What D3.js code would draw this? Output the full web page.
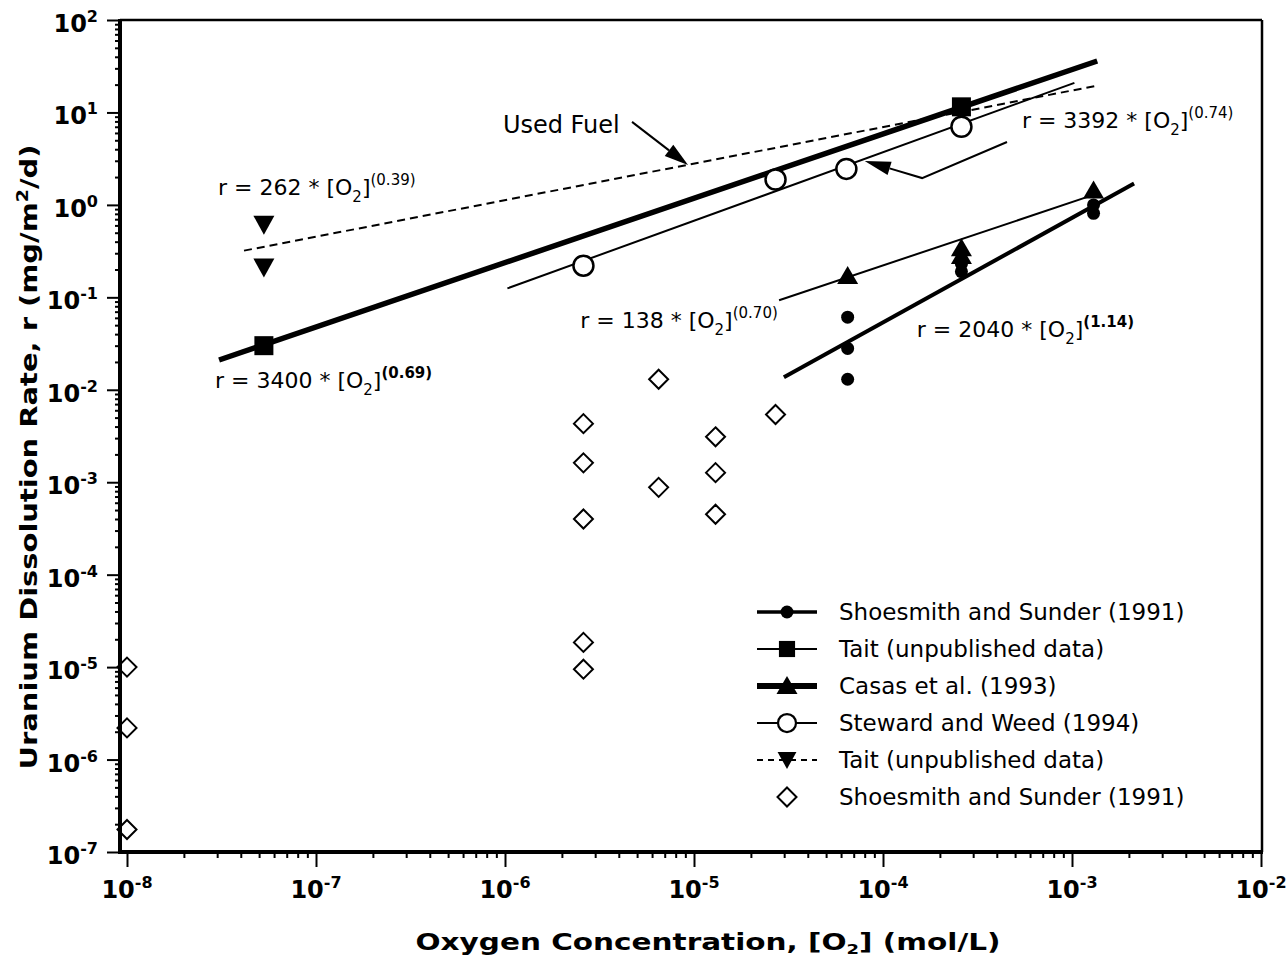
<!DOCTYPE html>
<html><head><meta charset="utf-8">
<script src="https://cdn.jsdelivr.net/npm/d3@7"></script>
<style>
html,body{margin:0;padding:0;background:#fff;}
svg{display:block;font-family:"DejaVu Sans",sans-serif;}
</style></head><body>
<svg id="chart" width="1286" height="958"></svg>
<script>
// ---------------- data ----------------
const xTickExponents = [-8, -7, -6, -5, -4, -3, -2];
const yTickExponents = [-7, -6, -5, -4, -3, -2, -1, 0, 1, 2];

// Shoesmith and Sunder (1991) - filled circles
const shoesmithClosedX = [6.5e-5, 6.5e-5, 6.5e-5, 2.6e-4, 2.6e-4, 1.3e-3, 1.3e-3];
const shoesmithClosedY = [0.061, 0.028, 0.013, 0.23, 0.19, 1.0, 0.81];
// Tait (unpublished data) - squares
const taitSquareX = [5.3e-8, 2.6e-4];
const taitSquareY = [0.030, 11.5];
// Casas et al. (1993) - up triangles
const casasX = [6.5e-5, 2.6e-4, 2.6e-4, 1.3e-3];
const casasY = [0.17, 0.34, 0.28, 1.43];
// Steward and Weed (1994) - open circles
const stewardX = [2.6e-6, 2.7e-5, 6.4e-5, 2.6e-4];
const stewardY = [0.22, 1.88, 2.45, 7.0];
// Tait (unpublished data) - down triangles
const taitTriX = [5.3e-8, 5.3e-8];
const taitTriY = [0.61, 0.21];
// Shoesmith and Sunder (1991) - open diamonds
const diamondX = [1e-8, 1e-8, 1e-8, 2.6e-6, 2.6e-6, 2.6e-6, 2.6e-6, 2.6e-6, 6.5e-6, 6.5e-6, 1.3e-5, 1.3e-5, 1.3e-5, 2.7e-5];
const diamondY = [1.0e-5, 2.2e-6, 1.75e-7, 4.3e-3, 1.62e-3, 4.0e-4, 1.85e-5, 9.5e-6, 0.013, 8.8e-4, 3.1e-3, 1.27e-3, 4.5e-4, 5.4e-3];

// fitted lines (end points)
const fit3400X = [3.07e-8, 1.36e-3], fit3400Y = [0.021, 36];
const fit3392X = [1.03e-6, 1.03e-3], fit3392Y = [0.125, 20.9];
const fit262X  = [4.16e-8, 1.34e-3], fit262Y  = [0.32, 19.4];
const fit138X  = [2.82e-5, 1.31e-3], fit138Y  = [0.093, 1.29];
const fit2040X = [2.99e-5, 2.13e-3], fit2040Y = [0.0137, 1.70];

const legendLabels = ["Shoesmith and Sunder (1991)", "Tait (unpublished data)", "Casas et al. (1993)",
  "Steward and Weed (1994)", "Tait (unpublished data)", "Shoesmith and Sunder (1991)"];

// equation labels
const eqCoef = ["262", "3400", "138", "3392", "2040"];
const eqExp  = ["0.39", "0.69", "0.70", "0.74", "1.14"];
const eqX    = [3.03e-8, 2.92e-8, 2.5e-6, 5.43e-4, 1.51e-4];
const eqY    = [1.28, 0.01045, 0.0466, 6.8, 0.0372];
const eqBoldExp = [false, true, false, false, true];

// annotation anchor points (data units)
const usedFuelTextAt = [9.75e-7, 6.0];
const usedFuelArrowX = [4.7e-6, 9.3e-6], usedFuelArrowY = [7.9, 2.7];
const arrow3392X = [4.53e-4, 1.61e-4, 8.0e-5], arrow3392Y = [4.79, 1.95, 2.99];

// ---------------- drawing ----------------
const svg = d3.select("#chart");
const frame = {left: 120, right: 1262, top: 20, bottom: 852};
const x = d3.scaleLog().domain([1e-8, 1e-2]).range([127, 1261]);
const y = d3.scaleLog().domain([1e-7, 1e2]).range([852, 20]);

const zip = (a, b) => a.map((v, i) => [v, b[i]]);
const line = d3.line().x(d => x(d[0])).y(d => y(d[1]));

const xMinor = [], yMinor = [];
for (let e = -8; e < -2; e++) for (let m = 2; m <= 9; m++) xMinor.push(m * Math.pow(10, e));
for (let e = -7; e < 2; e++) for (let m = 2; m <= 9; m++) yMinor.push(m * Math.pow(10, e));

const gx = svg.append("g").attr("transform", `translate(0,${frame.bottom})`);
gx.call(d3.axisBottom(x).tickValues(xTickExponents.map(e => Math.pow(10, e))).tickSize(15).tickFormat(""));
const gxm = svg.append("g").attr("transform", `translate(0,${frame.bottom})`);
gxm.call(d3.axisBottom(x).tickValues(xMinor).tickSize(6).tickFormat(""));
const gy = svg.append("g").attr("transform", `translate(${frame.left},0)`);
gy.call(d3.axisLeft(y).tickValues(yTickExponents.map(e => Math.pow(10, e))).tickSize(13).tickFormat(""));
const gym = svg.append("g").attr("transform", `translate(${frame.left},0)`);
gym.call(d3.axisLeft(y).tickValues(yMinor).tickSize(5).tickFormat(""));
[gx, gxm, gy, gym].forEach(g => {
  g.select(".domain").remove();
  g.selectAll(".tick line").attr("stroke", "#000").attr("stroke-width", 2);
});

// tick labels
xTickExponents.forEach(e => {
  const t = svg.append("text").attr("x", x(Math.pow(10, e))).attr("y", 898)
    .attr("text-anchor", "middle").attr("font-weight", "bold").attr("font-size", 24).attr("fill", "#000");
  t.append("tspan").text("10");
  t.append("tspan").attr("dy", -10).attr("font-size", 16).text(String(e));
});
yTickExponents.forEach(e => {
  const t = svg.append("text").attr("x", 98).attr("y", y(Math.pow(10, e)) + 12)
    .attr("text-anchor", "end").attr("font-weight", "bold").attr("font-size", 24).attr("fill", "#000");
  t.append("tspan").text("10");
  t.append("tspan").attr("dy", -10).attr("font-size", 16).text(String(e));
});

// axis titles
const xt = svg.append("text").attr("x", 708).attr("y", 950).attr("text-anchor", "middle")
  .attr("font-weight", "bold").attr("font-size", 23).attr("textLength", 585).attr("lengthAdjust", "spacingAndGlyphs");
xt.append("tspan").text("Oxygen Concentration, [O");
xt.append("tspan").attr("dy", 4).attr("font-size", 14).text("2");
xt.append("tspan").attr("dy", -4).text("] (mol/L)");

const yt = svg.append("text").attr("transform", "translate(37,457) rotate(-90)").attr("text-anchor", "middle")
  .attr("font-weight", "bold").attr("font-size", 23).attr("textLength", 625).attr("lengthAdjust", "spacingAndGlyphs");
yt.append("tspan").text("Uranium Dissolution Rate, r (mg/m");
yt.append("tspan").attr("dy", -9).attr("font-size", 15).text("2");
yt.append("tspan").attr("dy", 9).text("/d)");

// fit lines
const plotG = svg.append("g");
plotG.append("path").datum(zip(fit262X, fit262Y)).attr("d", line).attr("fill", "none")
  .attr("stroke", "#000").attr("stroke-width", 2).attr("stroke-dasharray", "8,5");
plotG.append("path").datum(zip(fit3400X, fit3400Y)).attr("d", line).attr("fill", "none")
  .attr("stroke", "#000").attr("stroke-width", 5.5);
plotG.append("path").datum(zip(fit3392X, fit3392Y)).attr("d", line).attr("fill", "none")
  .attr("stroke", "#000").attr("stroke-width", 2);
plotG.append("path").datum(zip(fit138X, fit138Y)).attr("d", line).attr("fill", "none")
  .attr("stroke", "#000").attr("stroke-width", 2);
plotG.append("path").datum(zip(fit2040X, fit2040Y)).attr("d", line).attr("fill", "none")
  .attr("stroke", "#000").attr("stroke-width", 4);

const shapes = {
  filledCircle: g => g.append("circle").attr("r", 6.5).attr("fill", "#000"),
  square: g => g.append("rect").attr("x", -9.5).attr("y", -9.5).attr("width", 19).attr("height", 19).attr("fill", "#000"),
  triUp: g => g.append("path").attr("d", "M0,-10L10.5,8L-10.5,8Z").attr("fill", "#000"),
  openCircle: g => g.append("circle").attr("r", 10).attr("fill", "#fff").attr("stroke", "#000").attr("stroke-width", 2.5),
  triDown: g => g.append("path").attr("d", "M-10.5,-9L10.5,-9L0,10Z").attr("fill", "#000"),
  diamond: g => g.append("path").attr("d", "M0,-9.5L9.5,0L0,9.5L-9.5,0Z").attr("fill", "#fff").attr("stroke", "#000").attr("stroke-width", 2)
};
function drawPoints(xs, ys, shape) {
  zip(xs, ys).forEach(p => {
    const g = plotG.append("g").attr("transform", `translate(${x(p[0])},${y(p[1])})`);
    shapes[shape](g);
  });
}
drawPoints(diamondX, diamondY, "diamond");
drawPoints(stewardX, stewardY, "openCircle");
drawPoints(taitTriX, taitTriY, "triDown");
drawPoints(shoesmithClosedX, shoesmithClosedY, "filledCircle");
drawPoints(casasX, casasY, "triUp");
drawPoints(taitSquareX, taitSquareY, "square");

// equation labels
eqCoef.forEach((c, i) => {
  const t = svg.append("text").attr("x", x(eqX[i])).attr("y", y(eqY[i])).attr("font-size", 22).attr("fill", "#000");
  t.append("tspan").text(`r = ${c} * [O`);
  t.append("tspan").attr("dy", 7).attr("font-size", 15).text("2");
  t.append("tspan").attr("dy", -7).text("]");
  t.append("tspan").attr("dy", -10).attr("font-size", 15).attr("font-weight", eqBoldExp[i] ? "bold" : "normal").text(`(${eqExp[i]})`);
});

svg.append("text").attr("x", x(usedFuelTextAt[0])).attr("y", y(usedFuelTextAt[1]))
  .attr("font-size", 24).text("Used Fuel");
function arrow(xs, ys, headLen, headHalf) {
  const pts = zip(xs, ys).map(p => [x(p[0]), y(p[1])]);
  const n = pts.length;
  const [ax, ay] = pts[n - 2], [bx, by] = pts[n - 1];
  const dx = bx - ax, dy = by - ay, L = Math.hypot(dx, dy);
  const ux = dx / L, uy = dy / L;
  const baseX = bx - ux * headLen, baseY = by - uy * headLen;
  const shaft = pts.slice(0, n - 1).concat([[baseX, baseY]]);
  svg.append("path").attr("d", d3.line()(shaft)).attr("fill", "none").attr("stroke", "#000").attr("stroke-width", 2);
  svg.append("path").attr("d", `M${bx},${by}L${baseX - uy * headHalf},${baseY + ux * headHalf}L${baseX + uy * headHalf},${baseY - ux * headHalf}Z`).attr("fill", "#000");
}
arrow(usedFuelArrowX, usedFuelArrowY, 24, 7);
arrow(arrow3392X, arrow3392Y, 26, 7);

// frame
svg.append("line").attr("x1", frame.left).attr("x2", frame.right).attr("y1", frame.top).attr("y2", frame.top).attr("stroke", "#000").attr("stroke-width", 2.5);
svg.append("line").attr("x1", frame.right).attr("x2", frame.right).attr("y1", frame.top).attr("y2", frame.bottom).attr("stroke", "#000").attr("stroke-width", 2.5);
svg.append("line").attr("x1", frame.left).attr("x2", frame.left).attr("y1", frame.top - 1).attr("y2", frame.bottom + 2).attr("stroke", "#000").attr("stroke-width", 4);
svg.append("line").attr("x1", frame.left - 2).attr("x2", frame.right + 1).attr("y1", frame.bottom).attr("y2", frame.bottom).attr("stroke", "#000").attr("stroke-width", 4);

// legend
const legendStyles = [
  {w: 3.5, dash: null, shape: "filledCircle"},
  {w: 2, dash: null, shape: "square", scale: 0.85},
  {w: 6, dash: null, shape: "triUp"},
  {w: 2, dash: null, shape: "openCircle", scale: 0.9},
  {w: 2, dash: "6,5", shape: "triDown", scale: 0.9},
  {w: 0, dash: null, shape: "diamond"}
];
legendLabels.forEach((lab, i) => {
  const cy = 612 + i * 37;
  const st = legendStyles[i];
  if (st.w > 0) {
    svg.append("line").attr("x1", 757).attr("x2", 817).attr("y1", cy).attr("y2", cy)
      .attr("stroke", "#000").attr("stroke-width", st.w).attr("stroke-dasharray", st.dash);
  }
  const g = svg.append("g").attr("transform", `translate(787,${cy}) scale(${st.scale || 1})`);
  shapes[st.shape](g);
  svg.append("text").attr("x", 839).attr("y", cy + 8).attr("font-size", 23).text(lab);
});
</script>
</body></html>
